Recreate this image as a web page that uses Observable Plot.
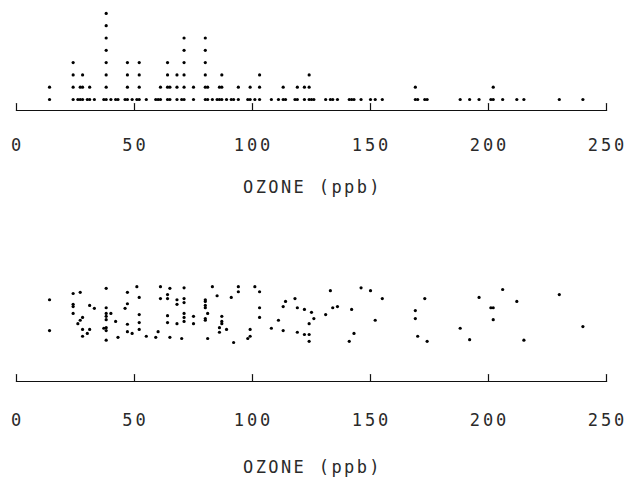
<!DOCTYPE html>
<html>
<head>
<meta charset="utf-8">
<script src="https://cdn.jsdelivr.net/npm/d3@7"></script>
<script src="https://cdn.jsdelivr.net/npm/@observablehq/plot@0.6"></script>
<style>
  html, body { margin: 0; padding: 0; background: #fff; }
  #chart svg { display: block; }
  #chart svg text { letter-spacing: 3px; }
  #chart g[aria-label="text"] text { letter-spacing: 2.4px; }
</style>
</head>
<body>
<div id="chart"></div>
<script>
// Ozone readings (ppb), one entry per observation
const ozone = [
  14, 14,
  24, 24, 24, 24,
  26, 27, 27, 28, 28, 28,
  30, 31, 31, 33,
  37, 38, 38, 38, 38, 38, 38, 38, 38,
  40, 42, 43,
  46, 47, 47, 47, 47, 49,
  51, 52, 52, 52, 52, 55,
  59, 60, 61, 61,
  64, 64, 64, 64, 65, 65,
  68, 68, 68, 70,
  71, 71, 71, 71, 71, 71,
  75, 75,
  80, 80, 80, 80, 80, 80,
  81, 81, 83, 85, 86, 86, 87, 87, 87,
  89, 91, 92, 94, 94,
  98, 99, 99, 101, 103, 103, 103,
  108, 111, 113, 113, 114, 118, 119, 119,
  122, 122, 124, 124, 124, 125, 126,
  131, 133, 134, 136, 141, 142, 143, 146,
  150, 152, 155,
  169, 169, 170, 173, 174,
  188, 192, 196, 201, 202, 202, 206,
  212, 215, 230, 240
];
// Vertical jitter (0 = bottom, 1 = top of the jitter band), same order as ozone
const jitter = [
  0.75, 0.21,
  0.86, 0.67, 0.63, 0.51,
  0.33, 0.88, 0.39, 0.44, 0.23, 0.11,
  0.16, 0.65, 0.23, 0.60,
  0.25, 0.95, 0.61, 0.51, 0.46, 0.40, 0.26, 0.21, 0.04,
  0.51, 0.37, 0.09,
  0.60, 0.88, 0.68, 0.32, 0.19, 0.16,
  0.98, 0.79, 0.49, 0.35, 0.23, 0.11,
  0.09, 0.19, 0.98, 0.77,
  0.84, 0.77, 0.47, 0.35, 0.95, 0.09,
  0.75, 0.67, 0.33, 0.07,
  0.96, 0.77, 0.70, 0.51, 0.44, 0.37,
  0.46, 0.33,
  0.75, 0.65, 0.42, 0.72, 0.61, 0.39,
  0.51, 0.07, 0.98, 0.82, 0.26, 0.18, 0.46, 0.37, 0.33,
  0.23, 0.79, 0.00, 0.98, 0.89,
  0.07, 0.23, 0.11, 0.98, 0.89, 0.61, 0.44,
  0.25, 0.39, 0.63, 0.21, 0.72, 0.77, 0.61, 0.18,
  0.58, 0.14, 0.33, 0.14, 0.02, 0.53, 0.42,
  0.49, 0.91, 0.61, 0.63, 0.02, 0.58, 0.16, 0.96,
  0.91, 0.39, 0.77,
  0.56, 0.42, 0.11, 0.77, 0.02,
  0.25, 0.05, 0.79, 0.61, 0.61, 0.40, 0.93,
  0.72, 0.04, 0.84, 0.28
];
const xTicks = [0, 50, 100, 150, 200, 250];
const xTitle = "OZONE (ppb)";

// build table: stack level for identical values, jitter for second panel
const seen = new Map();
const data = ozone.map((v, i) => {
  const k = seen.get(v) || 0;
  seen.set(v, k + 1);
  return {ozone: v, level: k, jitter: jitter[i]};
});

const font = "'DejaVu Sans Mono', monospace";
const tickShape = {draw(context, l) { context.moveTo(0, 0); context.lineTo(0, -l); }};

function panel({height, marginBottom, yDomain, yRange, yField, labelPad, titleDy}) {
  return Plot.plot({
    width: 627,
    height,
    marginLeft: 16,
    marginRight: 21,
    marginTop: 5,
    marginBottom,
    style: {fontFamily: font, fontSize: "17px", color: "#222", background: "#fff"},
    x: {domain: [0, 250]},
    y: {domain: yDomain, range: yRange, axis: null},
    marks: [
      Plot.frame({anchor: "bottom", stroke: "#111", strokeWidth: 1.2}),
      Plot.vectorX(xTicks, {x: d => d, frameAnchor: "bottom", length: 7, anchor: "start", shape: tickShape, stroke: "#111", strokeWidth: 1.2}),
      Plot.axisX({ticks: xTicks, tickSize: 0, tickPadding: labelPad, fontSize: 17, dx: 1, label: null, fill: "#2a2a2a"}),
      Plot.text([xTitle], {frameAnchor: "bottom", dy: titleDy, dx: 1, fontSize: 17, fill: "#2a2a2a"}),
      Plot.dot(data, {x: "ozone", y: yField, r: 1.6, fill: "#000", stroke: null})
    ]
  });
}

const topPanel = panel({height: 242, marginBottom: 132, yDomain: [0, 7], yRange: [99, 12.9], yField: "level", labelPad: 28, titleDy: 82});
const bottomPanel = panel({height: 243, marginBottom: 104, yDomain: [0, 1], yRange: [100, 43], yField: "jitter", labelPad: 32, titleDy: 91});
const el = document.getElementById("chart");
el.appendChild(topPanel);
el.appendChild(bottomPanel);
</script>
</body>
</html>
